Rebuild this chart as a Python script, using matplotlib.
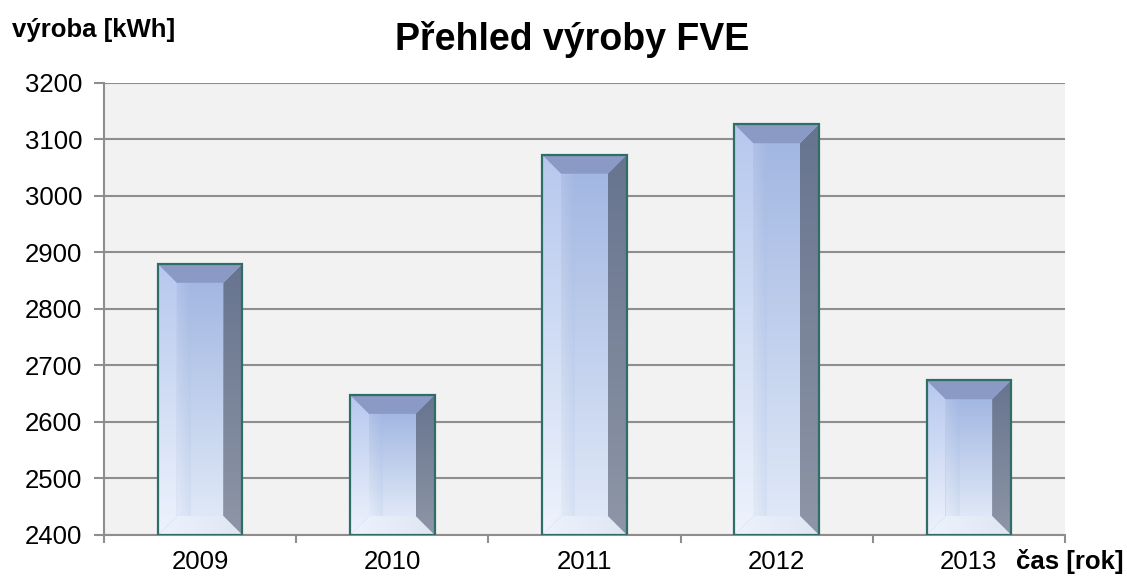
import numpy as np
import matplotlib
matplotlib.use("Agg")
import matplotlib.pyplot as plt
from matplotlib.patches import Polygon, Rectangle
from matplotlib.colors import LinearSegmentedColormap

years = ["2009", "2010", "2011", "2012", "2013"]
values = [2880, 2648, 3073, 3127, 2674]
yticks = [2400, 2500, 2600, 2700, 2800, 2900, 3000, 3100, 3200]

title = "Přehled výroby FVE"
ylabel = "výroba [kWh]"
xlabel = "čas [rok]"

plt.rcParams['font.family'] = ['Liberation Sans', 'DejaVu Sans']

W, H = 1127, 579
fig = plt.figure(figsize=(W / 100, H / 100), dpi=100)
fig.patch.set_facecolor('white')
L, R, T, B = 104, 1065, 83, 535
ax = fig.add_axes([L / W, 1 - B / H, (R - L) / W, (B - T) / H])
ax.set_facecolor('#f2f2f2')

ymin, ymax = 2400, 3200
ax.set_ylim(ymin, ymax)
ax.set_xlim(-0.5, len(years) - 0.5)

ax.set_yticks(yticks)
ax.yaxis.grid(True, color='#8e8e8e', linewidth=1.5)
ax.set_axisbelow(True)
ax.tick_params(axis='y', length=7, width=1.5, color='#8e8e8e', labelsize=18.5, pad=8.5)

ax.set_xticks(np.arange(-0.5, len(years), 1.0))
ax.set_xticklabels([])
ax.set_xticks(np.arange(len(years)), minor=True)
ax.set_xticklabels(years, minor=True)
ax.tick_params(axis='x', which='major', length=6, width=1.5, color='#8e8e8e', direction='out')
ax.tick_params(axis='x', which='minor', length=0, labelsize=18.5, pad=11)

for s in ['top', 'right']:
    ax.spines[s].set_visible(False)
for s in ['left', 'bottom']:
    ax.spines[s].set_color('#8e8e8e')
    ax.spines[s].set_linewidth(1.5)

bw = 0.44
bars = ax.bar(np.arange(len(years)), [v - ymin for v in values], bottom=ymin, width=bw,
              color='#a8bce6', edgecolor='none', zorder=2)

# pixel-to-data sizes for bevel
px_x = (len(years)) / (R - L)
px_y = (ymax - ymin) / (B - T)
bev = 19
bx = bev * px_x
by = bev * px_y

def grad_patch(poly, c_start, c_end, direction='v', z=3):
    cmap = LinearSegmentedColormap.from_list('g', [c_start, c_end])
    xs = [p[0] for p in poly]
    ys = [p[1] for p in poly]
    x0, x1, y0, y1 = min(xs), max(xs), min(ys), max(ys)
    if direction == 'v':
        arr = np.linspace(0, 1, 256).reshape(-1, 1)  # top -> start
    else:
        arr = np.linspace(0, 1, 256).reshape(1, -1)  # left -> start
    im = ax.imshow(arr, cmap=cmap, extent=[x0, x1, y0, y1], aspect='auto',
                   origin='upper', zorder=z, interpolation='bilinear', vmin=0, vmax=1)
    pp = Polygon(poly, closed=True, facecolor='none', edgecolor='none', transform=ax.transData)
    ax.add_patch(pp)
    im.set_clip_path(pp)
    return im

for b in bars:
    x0 = b.get_x()
    x1 = x0 + b.get_width()
    y0 = b.get_y()
    y1 = y0 + b.get_height()
    ix0, ix1, iy0, iy1 = x0 + bx, x1 - bx, y0 + by, y1 - by
    # front face
    grad_patch([(ix0, iy0), (ix1, iy0), (ix1, iy1), (ix0, iy1)], '#a2b7e2', '#dfe8f7', 'v')
    # subtle highlight stripe on front face left
    grad_patch([(ix0, iy0), (ix0 + (ix1 - ix0) * 0.3, iy0), (ix0 + (ix1 - ix0) * 0.3, iy1), (ix0, iy1)],
               '#ffffff', '#a2b7e2', 'h', z=3.1).set_alpha(0.15)
    # left bevel
    grad_patch([(x0, y0), (ix0, iy0), (ix0, iy1), (x0, y1)], '#b6c8ee', '#eef3fc', 'v')
    # right bevel
    grad_patch([(x1, y0), (ix1, iy0), (ix1, iy1), (x1, y1)], '#67748f', '#8e96a6', 'v')
    # top bevel
    ax.add_patch(Polygon([(x0, y1), (x1, y1), (ix1, iy1), (ix0, iy1)], closed=True,
                         facecolor='#8a9ac4', edgecolor='none', zorder=3.2))
    # bottom bevel
    grad_patch([(x0, y0), (x1, y0), (ix1, iy0), (ix0, iy0)], '#edf3fd', '#dfe6f2', 'h', z=3.2)
    # outline
    ax.add_patch(Rectangle((x0, y0), x1 - x0, y1 - y0, facecolor='none',
                           edgecolor='#2f6e66', linewidth=1.6, zorder=4))

fig.text(572 / W, 1 - 39 / H, title, ha='center', va='center', fontsize=27, fontweight='bold')
fig.text(12 / W, 1 - 30 / H, ylabel, ha='left', va='center', fontsize=18.5, fontweight='bold')
fig.text(1124 / W, 1 - 561 / H, xlabel, ha='right', va='center', fontsize=18.5, fontweight='bold')

fig.savefig('out.png', dpi=100, facecolor='white')
